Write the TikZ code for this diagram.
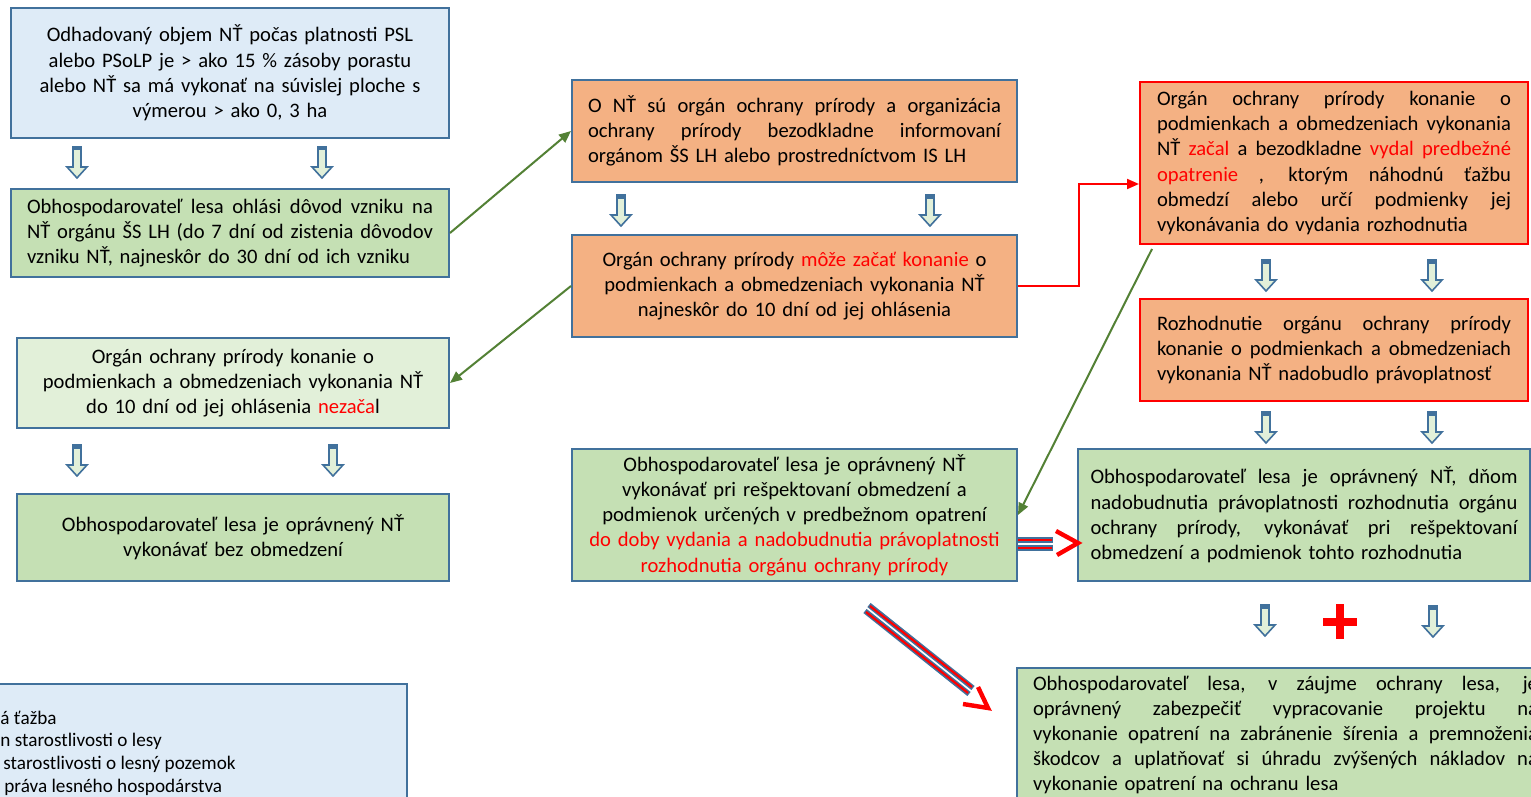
\documentclass[tikz,border=0pt]{standalone}
\usepackage{fontspec}
\setmainfont{Carlito}
\usetikzlibrary{arrows.meta,calc}
\definecolor{bord}{HTML}{41719C}
\definecolor{lblue}{HTML}{DEEBF7}
\definecolor{gfill}{HTML}{C5E0B4}
\definecolor{lgreen}{HTML}{E2F0D9}
\definecolor{ofill}{HTML}{F4B183}
\definecolor{garr}{HTML}{538135}
\newcommand\jline[2]{\leavevmode\hbox to #1{\spaceskip=\fontdimen2\font plus 1fil\relax #2}}
\newcommand\rd[1]{\textcolor{red}{#1}}
\tikzset{
  box/.style={draw=bord, line width=1pt, inner sep=0pt, anchor=north west,
    font=\fontsize{10.3}{12.6}\selectfont},
  redbox/.style={box, draw=red},
  garrow/.style={draw=garr, line width=1pt, -{Triangle[length=6pt,width=5pt]}},
  rarrow/.style={draw=red, line width=1pt, -{Triangle[length=6pt,width=5pt]}},
  downarr/.pic={
    \filldraw[fill=lgreen, draw=bord, line width=0.8pt, line join=miter]
      (-4,0) -- (4,0) -- (4,20) -- (10,20) -- (0,31) -- (-10,20) -- (-4,20) -- cycle;
    \fill[bord] (-4.4,-0.4) rectangle (4.4,3.5);
  }
}
\begin{document}
\begin{tikzpicture}[x=0.5pt,y=-0.5pt]
\useasboundingbox (0,0) rectangle (1531,797);
\clip (0,0) rectangle (1531,797);
\fill[white] (0,0) rectangle (1531,797);

% left column
\node[box, fill=lblue, minimum width=219pt, minimum height=65pt, text width=205pt, align=center] (A) at (10,7)
 {Odhadovaný objem NŤ počas platnosti PSL\\ alebo PSoLP je > ako 15 \% zásoby porastu\\ alebo NŤ sa má vykonať na súvislej ploche s\\ výmerou > ako 0, 3 ha};
\node[box, fill=gfill, minimum width=219pt, minimum height=44pt, text width=203pt, align=left] (B) at (10,188)
 {\jline{203pt}{Obhospodarovateľ lesa ohlási dôvod vzniku na}\\ \jline{203pt}{NŤ orgánu ŠS LH (do 7 dní od zistenia dôvodov}\\ vzniku NŤ, najneskôr do 30 dní od ich vzniku};
\node[box, fill=lgreen, minimum width=216pt, minimum height=45pt, text width=205pt, align=center] (C) at (16,337)
 {Orgán ochrany prírody konanie o\\ podmienkach a obmedzeniach vykonania NŤ\\ do 10 dní od jej ohlásenia \rd{nezača}l};
\node[box, fill=gfill, minimum width=216pt, minimum height=43.5pt, text width=205pt, align=center] (D) at (16,493)
 {Obhospodarovateľ lesa je oprávnený NŤ\\ vykonávať bez obmedzení};

% middle column
\node[box, fill=ofill, minimum width=222.5pt, minimum height=51pt, text width=206.5pt, align=left] (E) at (571,79)
 {\jline{206.5pt}{O NŤ sú orgán ochrany prírody a organizácia}\\ \jline{206.5pt}{ochrany prírody bezodkladne informovaní}\\ orgánom ŠS LH alebo prostredníctvom IS LH};
\node[box, fill=ofill, minimum width=222.5pt, minimum height=51pt, text width=212pt, align=center] (F) at (571,234)
 {Orgán ochrany prírody \rd{môže začať konanie} o\\ podmienkach a obmedzeniach vykonania NŤ\\ najneskôr do 10 dní od jej ohlásenia};
\node[box, fill=gfill, minimum width=222.5pt, minimum height=66pt, text width=212pt, align=center] (G) at (571,448)
 {Obhospodarovateľ lesa je oprávnený NŤ\\ vykonávať pri rešpektovaní obmedzení a\\ podmienok určených v predbežnom opatrení\\ \rd{do doby vydania a nadobudnutia právoplatnosti}\\ \rd{rozhodnutia orgánu ochrany prírody}};

% right column
\node[redbox, fill=ofill, minimum width=194pt, minimum height=81pt, text width=177pt, align=left] (H) at (1139,81)
 {\jline{177pt}{Orgán ochrany prírody konanie o}\\ \jline{177pt}{podmienkach a obmedzeniach vykonania}\\ \jline{177pt}{NŤ \rd{začal} a bezodkladne \rd{vydal predbežné}}\\ \jline{177pt}{\rd{opatrenie} , ktorým náhodnú ťažbu}\\ \jline{177pt}{obmedzí alebo určí podmienky jej}\\ vykonávania do vydania rozhodnutia};
\node[redbox, fill=ofill, minimum width=194pt, minimum height=51pt, text width=177pt, align=left] (I) at (1139,298)
 {\jline{177pt}{Rozhodnutie orgánu ochrany prírody}\\ \jline{177pt}{konanie o podmienkach a obmedzeniach}\\ vykonania NŤ nadobudlo právoplatnosť};
\node[box, fill=gfill, minimum width=226pt, minimum height=66pt, text width=213.5pt, align=left] (J) at (1077,448)
 {\jline{213.5pt}{Obhospodarovateľ lesa je oprávnený NŤ, dňom}\\ \jline{213.5pt}{nadobudnutia právoplatnosti rozhodnutia orgánu}\\ \jline{213.5pt}{ochrany prírody, vykonávať pri rešpektovaní}\\ obmedzení a podmienok tohto rozhodnutia};
\node[box, fill=gfill, minimum width=268.5pt, minimum height=67pt, text width=252.5pt, align=left] (K) at (1016,667)
 {\jline{252.5pt}{Obhospodarovateľ lesa, v záujme ochrany lesa, je}\\ \jline{252.5pt}{oprávnený zabezpečiť vypracovanie projektu na}\\ \jline{252.5pt}{vykonanie opatrení na zabránenie šírenia a premnoženia}\\ \jline{252.5pt}{škodcov a uplatňovať si úhradu zvýšených nákladov na}\\ vykonanie opatrení na ochranu lesa};

% legend
\node[box, fill=lblue, minimum width=213pt, minimum height=75pt] (L) at (-20,683) {};
\begin{scope}[every node/.style={anchor=west, inner sep=0pt, font=\fontsize{9.6}{11}\selectfont}]
\node (L1) at (0,718) {á ťažba};
\node (L2) at (0,741) {n starostlivosti o lesy};
\node (L3) at (3,764) {starostlivosti o lesný pozemok};
\node (L4) at (4,787) {práva lesného hospodárstva};
\end{scope}

% block down arrows
\pic at (77,147) {downarr};
\pic at (322,147) {downarr};
\pic at (77,445) {downarr};
\pic at (333,445) {downarr};
\pic at (621,195) {downarr};
\pic at (930,195) {downarr};
\pic at (1266,260) {downarr};
\pic at (1432,260) {downarr};
\pic at (1266,412) {downarr};
\pic at (1432,412) {downarr};
\pic at (1265,605) {downarr};
\pic at (1433,606) {downarr};

% green connectors
\draw[garrow] (B.east) -- (E.west);
\draw[garrow] (F.west) -- (C.east);
\draw[garrow] ($(H.south west)+(13,4)$) -- (G.east);

% red elbow
\draw[rarrow] (F.east) -- ++(61,0) |- ([yshift=-10.5pt]H.west);

% double arrow G -> J
\foreach \yy in {540,548} {
  \draw[bord, line width=2.6pt] (1017,\yy) -- (1053,\yy);
  \draw[red, line width=1.1pt] (1018,\yy) -- (1052,\yy);
}
\draw[red, line width=2.2pt, line join=miter] (1056,531) -- (1078,543) -- (1057,555);

% diagonal double arrow
\draw[bord, line width=2.6pt] (869,605) -- (973,688);
\draw[bord, line width=2.6pt] (865,611) -- (969,694);
\draw[red, line width=1.1pt] (870,606) -- (972,687);
\draw[red, line width=1.1pt] (866,612) -- (968,693);
\draw[red, line width=2.2pt, line join=miter] (978,687) -- (988,708) -- (963,704);

% red plus
\draw[red, line width=3.6pt] (1323,622) -- (1357,622);
\draw[red, line width=3.6pt] (1340,604) -- (1340,639);
\end{tikzpicture}
\end{document}
